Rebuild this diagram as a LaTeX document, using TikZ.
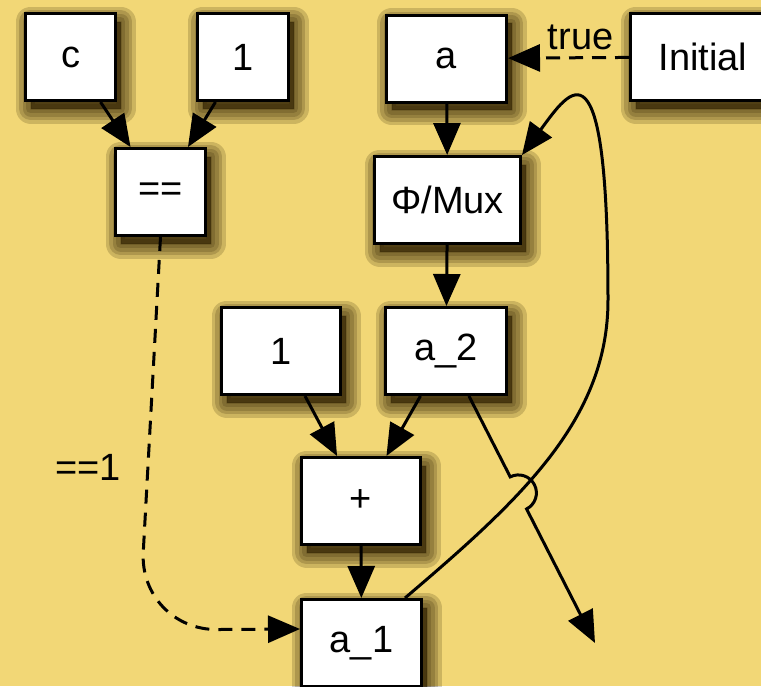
\documentclass[tikz,border=0pt]{standalone}
\usepackage{fontspec}
\setmainfont{Liberation Sans}
\usetikzlibrary{arrows.meta,calc,shadows}
\definecolor{bg}{RGB}{242,215,118}
\definecolor{shade}{RGB}{45,30,0}

\tikzset{
  shadowring/.style={shadow xshift=5pt, shadow yshift=-8pt, fill=shade, draw=shade,
    line width=#1, line join=round, opacity=0.19},
  box/.style={draw=black, line width=3pt, fill=white, inner sep=0pt,
    minimum width=#1, minimum height=87pt,
    font=\fontsize{38}{44}\selectfont,
    general shadow={shadowring=30pt}, general shadow={shadowring=23pt},
    general shadow={shadowring=16pt}, general shadow={shadowring=9pt},
    general shadow={shadowring=2pt}},
  arr/.style={line width=3pt, -{Triangle[length=32pt,width=27pt]}},
  dasharr/.style={arr, dash pattern=on 14pt off 9pt},
  lbl/.style={font=\fontsize{38}{44}\selectfont, inner sep=2pt}
}

\begin{document}
\begin{tikzpicture}[x=1pt,y=-1pt]
  \useasboundingbox (0,0) rectangle (761,686);
  \fill[bg] (0,0) rectangle (761,686);
  \clip (0,0) rectangle (761,686);

  % nodes
  \node[box=90pt]  (c)       at (70.5,57)  {c};
  \node[box=91pt]  (one)     at (243,57)   {1};
  \node[box=90pt]  (eq)      at (160.5,192) {==};
  \node[box=120pt] (a)       at (446.5,58.5) {a};
  \node[box=145pt] (initial) at (703,57)   {Initial};
  \node[box=146pt] (mux)     at (447.5,200) {Φ/Mux};
  \node[box=119pt] (one2)    at (281,351)  {1};
  \node[box=121pt] (a2)      at (446,351)  {a\_2};
  \node[box=119pt] (plus)    at (361,501)  {+};
  \node[box=120pt] (a1)      at (361.5,643) {a\_1};
  \node[lbl] (eqlbl) at (88,467) {==1};
  \coordinate (sink) at (595,643);
  \coordinate (hop) at ($(a2)!0.486!(sink)$);

  % edges
  \draw[arr] (c) -- (eq);
  \draw[arr] (one) -- (eq);
  \draw[arr] (a) -- (mux);
  \draw[arr] (mux) -- (a2);
  \draw[arr] (one2) -- (plus);
  \draw[arr] (a2) -- (plus);
  \draw[arr] (plus) -- (a1);
  \draw[dasharr] (initial) -- node[lbl, pos=0.4, above=4pt] (truelbl) {true} (a);
  \draw[dasharr, rounded corners=78pt] (eq.south) -- (139,630) -- ([yshift=14pt]a1.west);
  \draw[arr] ([xshift=-18pt]a1.north east) .. controls (520,500) and (608,420) .. (608,300)
    .. controls (608,30) and (570,90) .. (mux.north east);
  \draw[arr] (a2) -- ($(hop)!18pt!(a2)$) arc[start angle=117, end angle=-63, radius=18pt] -- (sink);
\end{tikzpicture}
\end{document}
